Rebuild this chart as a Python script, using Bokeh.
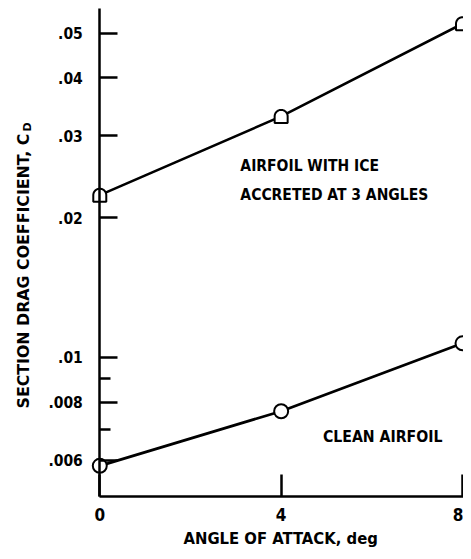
import numpy as np
from bokeh.plotting import figure
from bokeh.models import Range1d, FixedTicker, Label
from bokeh.embed import file_html
from bokeh.resources import INLINE

# ---- data ----
angle = [0, 4, 8]
cd_ice = [0.02236, 0.03306, 0.05237]
cd_clean = [0.005837, 0.007652, 0.01072]

y_major = [0.006, 0.008, 0.01, 0.02, 0.03, 0.04, 0.05]
y_major_labels = [".006", ".008", ".01", ".02", ".03", ".04", ".05"]
y_minor = [0.007, 0.009]
x_ticks = [0, 4, 8]
x_tick_labels = ["0", "4", "8"]
y_axis_at = 0          # the y axis is drawn at angle 0
x_axis_at = 0.005      # the x axis is drawn at c_D = 0.005

# ---- layout constants ----
W, H = 463, 551                 # canvas size
REF_W, REF_H = 471, 559         # reference picture size (layout measured there)
PX_PER_UNIT = 46.125            # reference px per degree
PX_PER_DEC = 470.7              # reference px per decade
X_START = -101 / PX_PER_UNIT
X_END = X_START + REF_W / PX_PER_UNIT
Y_TOP = 10 ** (-2 + 362 / PX_PER_DEC)
Y_BOT = 10 ** (-2 - (REF_H - 362) / PX_PER_DEC)
DEC = np.log10(Y_TOP / Y_BOT)

COND = "DejaVu Sans Condensed"
WIDE = "DejaVu Sans"


def px_x(ref_x):
    return X_START + ref_x / PX_PER_UNIT


def py_y(ref_y):
    return 10 ** (np.log10(Y_TOP) - ref_y / PX_PER_DEC)


def offset(x, y, dx, dy):
    # dx, dy in canvas pixels
    return x + dx * (X_END - X_START) / W, y * 10 ** (-dy * DEC / H)


def d_shape(x, y, r):
    t = np.linspace(0, np.pi, 25)
    pts = [offset(x, y, r * np.cos(a), -r * np.sin(a)) for a in t]
    pts += [offset(x, y, -r, r), offset(x, y, r, r)]
    return [q[0] for q in pts], [q[1] for q in pts]


p = figure(width=W, height=H,
           x_range=Range1d(X_START, X_END), y_range=Range1d(Y_BOT, Y_TOP),
           y_axis_type="log", output_backend="svg", toolbar_location=None,
           min_border_left=0, min_border_right=0, min_border_top=0,
           min_border_bottom=0)
p.outline_line_color = None
p.grid.visible = False
p.background_fill_color = "white"
p.border_fill_color = "white"

# axes (drawn at fixed data locations inside the frame)
yax = p.yaxis[0]
yax.fixed_location = y_axis_at
yax.bounds = (x_axis_at, py_y(8))
yax.ticker = FixedTicker(ticks=y_major, minor_ticks=y_minor)
yax.major_label_overrides = {v: s for v, s in zip(y_major, y_major_labels)}
yax.major_tick_in = 18
yax.major_tick_out = 0
yax.minor_tick_in = 11
yax.minor_tick_out = 0
yax.major_label_standoff = 17

xax = p.xaxis[0]
xax.fixed_location = x_axis_at
xax.bounds = (y_axis_at, X_END)
xax.ticker = FixedTicker(ticks=x_ticks, minor_ticks=[])
xax.major_label_overrides = {v: s for v, s in zip(x_ticks, x_tick_labels)}
xax.major_tick_in = 22
xax.major_tick_out = 0
xax.minor_tick_in = 0
xax.minor_tick_out = 0
xax.major_label_standoff = 11

for ax in (xax, yax):
    ax.axis_line_width = 2.5
    ax.axis_line_color = "black"
    ax.major_tick_line_width = 2.5
    ax.minor_tick_line_width = 2.5
    ax.major_tick_line_color = "black"
    ax.minor_tick_line_color = "black"
    ax.major_label_text_font = COND
    ax.major_label_text_font_style = "bold"
    ax.major_label_text_color = "black"
yax.major_label_text_font_size = "15.5px"
xax.major_label_text_font_size = "17px"

# curves
p.line(angle, cd_ice, line_width=2.6, line_color="black")
p.line(angle, cd_clean, line_width=2.8, line_color="black")

# markers
dx, dy = zip(*[d_shape(x, y, 6.5) for x, y in zip(angle, cd_ice)])
p.patches(list(dx), list(dy), fill_color="white", line_color="black", line_width=2)
p.scatter(angle, cd_clean, marker="circle", size=14, fill_color="white",
          line_color="black", line_width=2)


# text annotations (positions in reference pixels)
def lab(text, ref_x, ref_y, size, font=COND, align="left", angle=0.0):
    p.add_layout(Label(x=px_x(ref_x), y=py_y(ref_y), text=text, text_font=font,
                       text_font_style="bold", text_font_size=size, text_color="black",
                       text_align=align, text_baseline="alphabetic", angle=angle))


lab("AIRFOIL WITH ICE", 244, 168, "15.5px")
lab("ACCRETED AT 3 ANGLES", 244, 197, "15.5px")
lab("CLEAN AIRFOIL", 328, 442, "15.7px")
lab("ANGLE OF ATTACK, deg", 285, 546, "16.5px", align="center")
lab("SECTION DRAG COEFFICIENT, C", 23, 135, "15.8px", font=WIDE, align="right", angle=np.pi / 2)
lab("D", 27, 133, "11px", font=WIDE, align="left", angle=np.pi / 2)

open("out.html", "w").write(file_html(p, INLINE))
